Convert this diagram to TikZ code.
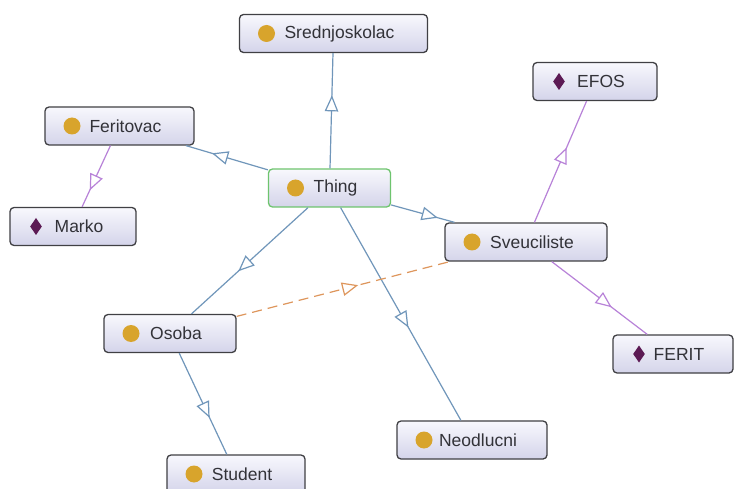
\documentclass[tikz,border=0pt]{standalone}
\usepackage{fontspec}
\setmainfont{Liberation Sans}
\usepackage{tikz}
\usetikzlibrary{decorations.markings}

\definecolor{boxline}{RGB}{64,64,68}
\definecolor{boxtop}{RGB}{248,248,253}
\definecolor{boxbot}{RGB}{212,212,234}
\definecolor{thinggreen}{RGB}{110,196,110}
\definecolor{clsgold}{RGB}{216,164,44}
\definecolor{indpurple}{RGB}{92,26,84}
\definecolor{isablue}{RGB}{112,150,186}
\definecolor{instviolet}{RGB}{184,130,216}
\definecolor{relorange}{RGB}{222,150,92}
\definecolor{labelgrey}{RGB}{50,50,56}

\begin{document}
\begin{tikzpicture}[
  x=1pt, y=-1pt,
  box/.style={
    rectangle, rounded corners=4pt, draw=boxline, line width=1.3pt,
    top color=boxtop, bottom color=boxbot,
    minimum height=38pt, minimum width=#1, inner sep=0pt,
    text=labelgrey, font=\fontsize{17.5pt}{20pt}\selectfont,
    execute at begin node=\hspace*{12pt}
  },
  cls/.style={
    box=#1,
    path picture={
      \fill[clsgold] ([xshift=27pt]path picture bounding box.west) circle (8.5pt);
    }
  },
  ind/.style={
    box=#1,
    path picture={
      \fill[indpurple, sharp corners] ([xshift=26pt]path picture bounding box.west)
        ++(0pt,8.5pt) -- ++(5.8pt,-8.5pt) -- ++(-5.8pt,-8.5pt) -- ++(-5.8pt,8.5pt) -- cycle;
    }
  },
  tri/.style={
    postaction={decorate},
    decoration={markings, mark=at position 0.5 with {
      \draw[solid, sharp corners, fill=white, line join=miter] (0pt,6pt) -- (14pt,0pt) -- (0pt,-6pt) -- cycle;
    }}
  },
  isa/.style={draw=isablue, line width=1.2pt, tri},
  inst/.style={draw=instviolet, line width=1.2pt, tri},
  rel/.style={draw=relorange, line width=1.2pt, dash pattern=on 10pt off 6pt, tri}
]
  \useasboundingbox (0,0) rectangle (734,489);
  \fill[white] (0,0) rectangle (734,489);

  % classes
  \node[cls=188pt] (sred) at (333.5,33.5) {Srednjoskolac};
  \node[cls=122pt, draw=thinggreen] (thing) at (329.5,188) {Thing};
  \node[cls=149pt] (feri) at (119.5,126) {Feritovac};
  \node[cls=162pt] (sveu) at (526,242) {Sveuciliste};
  \node[cls=132pt] (osoba) at (170,333.5) {Osoba};
  \node[cls=150pt] (neod) at (472,440) {Neodlucni};
  \node[cls=138pt] (student) at (236,474) {Student};

  % individuals
  \node[ind=126pt] (marko) at (73,226.5) {Marko};
  \node[ind=124pt] (efos) at (595,81.5) {EFOS};
  \node[ind=120pt] (ferit) at (673,354) {FERIT};

  % subclass edges
  \draw[isa] (thing) -- (sred);
  \draw[isa] (thing) -- (feri);
  \draw[isa] (thing) -- (sveu);
  \draw[isa] (thing) -- (osoba);
  \draw[isa] (thing) -- (neod);
  \draw[isa] (osoba) -- (student);

  % individual edges
  \draw[inst] (feri) -- (marko);
  \draw[inst] (sveu) -- (efos);
  \draw[inst] (sveu) -- (ferit);

  % object property
  \draw[rel] (osoba) -- (sveu);
\end{tikzpicture}
\end{document}
